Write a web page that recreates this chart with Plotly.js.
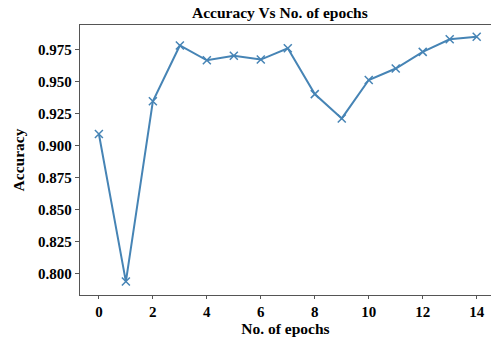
<!DOCTYPE html>
<html><head><meta charset="utf-8">
<script src="https://cdn.plot.ly/plotly-3.0.1.min.js"></script>
<style>body{margin:0;background:#fff}#c{width:491px;height:339px}</style>
</head><body><div id="c"></div>
<script>
const epochs = [0,1,2,3,4,5,6,7,8,9,10,11,12,13,14];
const accuracy = [0.9088,0.7935,0.9344,0.978,0.9664,0.970,0.967,0.9758,0.940,0.921,0.951,0.960,0.973,0.9828,0.9848];
const xTicks = [0,2,4,6,8,10,12,14];
const yTicks = [0.800,0.825,0.850,0.875,0.900,0.925,0.950,0.975];
const F = "'Liberation Serif', 'Times New Roman', serif";
Plotly.newPlot('c', [{
  x: epochs, y: accuracy, mode: 'lines+markers', type: 'scatter',
  line: {color: '#4684b5', width: 2},
  marker: {symbol: 'x-thin', size: 8, line: {color: '#4684b5', width: 1.5}, color: '#4684b5'}
}], {
  width: 491, height: 339,
  margin: {l: 80, r: 0, t: 25, b: 44},
  paper_bgcolor: '#fff', plot_bgcolor: '#fff',
  showlegend: false,
  title: {text: '<b>Accuracy Vs No. of epochs</b>', x: 0.57, xanchor: 'center', y: 0.962, yanchor: 'middle',
          font: {family: F, size: 15.5, color: '#000'}},
  xaxis: {range: [-0.7, 14.53], tickvals: xTicks, ticktext: xTicks.map(v => '<b>' + v + '</b>'),
          showgrid: false, zeroline: false, showline: true, mirror: true, linecolor: '#555', linewidth: 1.2,
          ticks: 'outside', ticklen: 3, tickcolor: '#555',
          tickfont: {family: F, size: 15, color: '#000'},
          title: {text: '<b>No. of epochs</b>', standoff: 4, font: {family: F, size: 15.5, color: '#000'}}},
  yaxis: {range: [0.783, 0.994], tickvals: yTicks, ticktext: yTicks.map(v => '<b>' + v.toFixed(3) + '</b>'),
          showgrid: false, zeroline: false, showline: true, mirror: false, linecolor: '#555', linewidth: 1.2,
          ticks: 'outside', ticklen: 4, tickcolor: '#555',
          tickfont: {family: F, size: 15, color: '#000'},
          title: {text: '<b>Accuracy</b>', standoff: 9, font: {family: F, size: 15.5, color: '#000'}}}
}, {displayModeBar: false, staticPlot: true});
</script></body></html>
